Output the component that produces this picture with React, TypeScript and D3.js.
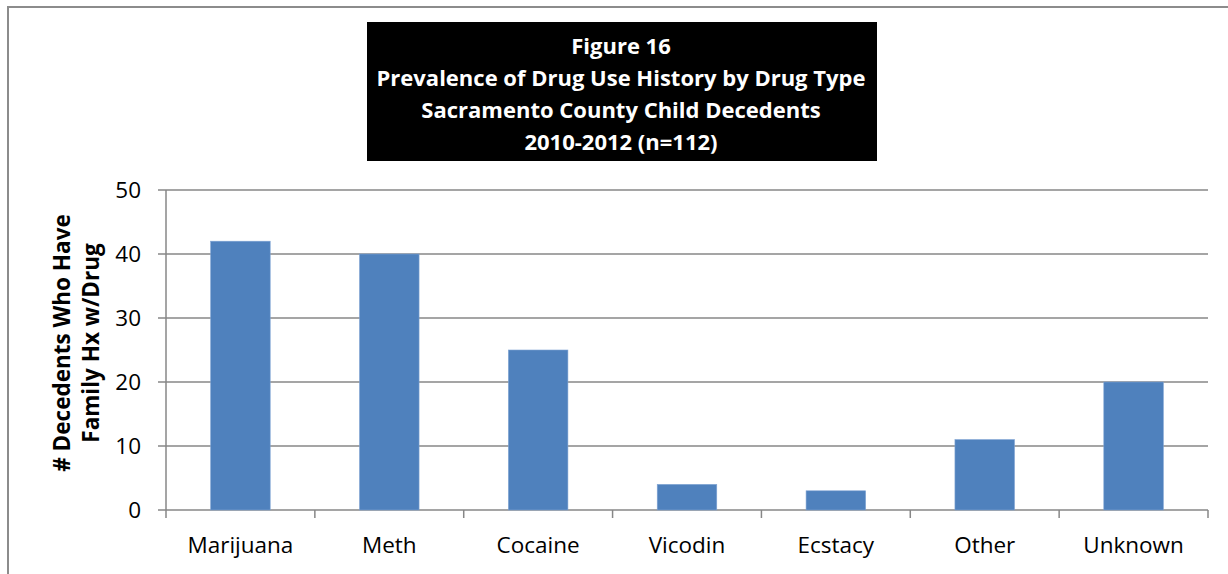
import React from "react";
import * as d3 from "d3";

const categories = ["Marijuana", "Meth", "Cocaine", "Vicodin", "Ecstacy", "Other", "Unknown"];
const values = [42, 40, 25, 4, 3, 11, 20];
const yTicks = [0, 10, 20, 30, 40, 50];
const titleLines = [
  "Figure 16",
  "Prevalence of Drug Use History by Drug Type",
  "Sacramento County Child Decedents",
  "2010-2012 (n=112)",
];
const yTitleLines = ["# Decedents Who Have", "Family Hx w/Drug"];

const W = 1228;
const H = 574;
const plot = { left: 166, right: 1208, top: 190, bottom: 510 };
const FONT = "'Open Sans', sans-serif";
const GRID = "#878787";
const BAR = "#4F81BD";

export default function App() {
  const x = d3
    .scaleBand<string>()
    .domain(categories)
    .range([plot.left, plot.right])
    .paddingInner(0.6)
    .paddingOuter(0.3);
  const bandStep = (plot.right - plot.left) / categories.length;
  const y = d3.scaleLinear().domain([0, 50]).range([plot.bottom, plot.top]);
  const yMid = (plot.top + plot.bottom) / 2;

  return (
    <svg
      width={W}
      height={H}
      style={{ position: "absolute", left: 0, top: 0, background: "#fff" }}
      fontFamily={FONT}
    >
      {/* outer frame */}
      <rect x={8} y={7} width={W + 20} height={H + 20} fill="none" stroke="#8c8c8c" strokeWidth={2} />

      {/* title block */}
      <rect x={367} y={22} width={510} height={139} fill="#000" />
      {titleLines.map((t, i) => (
        <text
          key={t}
          x={621}
          y={54 + i * 32}
          fill="#fff"
          fontWeight="bold"
          fontSize={22}
          textAnchor="middle"
        >
          {t}
        </text>
      ))}

      {/* horizontal gridlines and y ticks */}
      {yTicks.map((v) => (
        <g key={v}>
          <line x1={plot.left - 8} x2={plot.right} y1={y(v)} y2={y(v)} stroke={GRID} strokeWidth={1.5} />
          <text x={141} y={y(v) + 8} fontSize={22.5} textAnchor="end" fill="#000">
            {v}
          </text>
        </g>
      ))}

      {/* y axis line */}
      <line x1={plot.left} x2={plot.left} y1={plot.top} y2={plot.bottom} stroke={GRID} strokeWidth={1.5} />

      {/* category boundary ticks */}
      {d3.range(categories.length + 1).map((i) => {
        const tx = plot.left + i * bandStep;
        return <line key={i} x1={tx} x2={tx} y1={plot.bottom} y2={plot.bottom + 8} stroke={GRID} strokeWidth={1.5} />;
      })}

      {/* bars */}
      {categories.map((c, i) => (
        <rect
          key={c}
          x={x(c)}
          y={y(values[i])}
          width={x.bandwidth()}
          height={plot.bottom - y(values[i])}
          fill={BAR}
          stroke="#7FA3D3"
          strokeWidth={0.6}
        />
      ))}

      {/* category labels */}
      {categories.map((c) => (
        <text key={c} x={(x(c) as number) + x.bandwidth() / 2} y={553} fontSize={22.5} textAnchor="middle" fill="#000">
          {c}
        </text>
      ))}

      {/* y axis title */}
      {yTitleLines.map((t, i) => (
        <text
          key={t}
          transform={`translate(${70 + i * 29}, ${yMid - 7}) rotate(-90)`}
          fontSize={22.5}
          fontWeight="bold"
          textAnchor="middle"
          fill="#000"
        >
          {t}
        </text>
      ))}
    </svg>
  );
}
